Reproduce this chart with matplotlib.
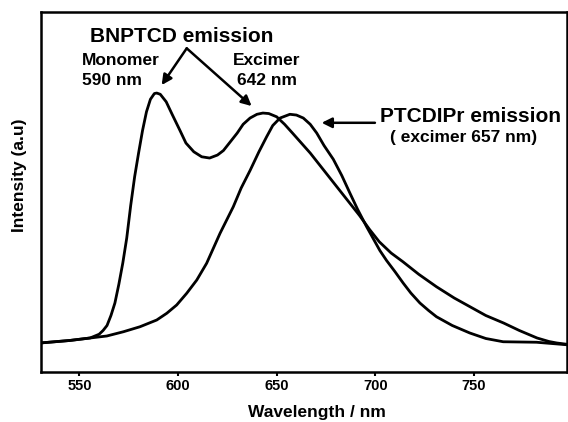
import matplotlib.pyplot as plt

plt.rcParams['font.family'] = ['Liberation Sans', 'DejaVu Sans']
plt.rcParams['font.weight'] = 'bold'

# BNPTCD emission (monomer 590 nm + excimer 642 nm)
wl_bnptcd = [530, 545, 555.4, 560, 562, 564, 566, 568, 570, 572,
             574, 576, 578, 580, 582, 584, 586, 588, 589.2, 591,
             594, 597, 601, 604, 608, 612, 616, 620, 623, 626,
             630, 633, 636.5, 640, 643, 646, 650, 654, 658, 667,
             675, 684, 692, 697, 702, 708, 714, 722, 731, 740,
             748, 756, 765, 773, 782, 788, 792, 797]
int_bnptcd = [0.0, 0.01, 0.02, 0.035, 0.05, 0.07, 0.11, 0.16, 0.235, 0.32,
              0.42, 0.55, 0.665, 0.76, 0.85, 0.925, 0.975, 0.998, 1.0, 0.995,
              0.965, 0.915, 0.85, 0.80, 0.765, 0.745, 0.74, 0.752, 0.77, 0.80,
              0.84, 0.875, 0.90, 0.915, 0.92, 0.918, 0.905, 0.875, 0.84, 0.76,
              0.68, 0.59, 0.51, 0.455, 0.405, 0.36, 0.325, 0.275, 0.225, 0.18,
              0.145, 0.11, 0.08, 0.05, 0.02, 0.006, 0.0, -0.005]

# PTCDIPr emission (excimer 657 nm)
wl_ptcdipr = [530, 545, 555.4, 563.9, 572.3, 580.7, 589.2, 594.3, 599.3, 604.4,
              609.5, 614.5, 621.3, 628, 632, 636.5, 641, 644.9, 648, 651.7,
              656.7, 660, 663.5, 667, 670.3, 674, 678.7, 683, 687.1, 691,
              695.6, 702.3, 705.7, 710, 714.1, 718, 722.6, 727, 731, 739,
              747.9, 756, 764.8, 781.7, 797]
int_ptcdipr = [0.0, 0.01, 0.02, 0.028, 0.045, 0.065, 0.092, 0.119, 0.152, 0.199,
               0.252, 0.319, 0.439, 0.545, 0.62, 0.69, 0.765, 0.825, 0.87, 0.90,
               0.915, 0.912, 0.90, 0.875, 0.84, 0.79, 0.735, 0.67, 0.60, 0.535,
               0.465, 0.37, 0.33, 0.285, 0.24, 0.20, 0.16, 0.13, 0.105, 0.07,
               0.04, 0.018, 0.005, 0.003, -0.007]

xticks = [550, 600, 650, 700, 750]

fig = plt.figure(figsize=(5.68, 4.22), dpi=100)
ax = fig.add_axes([0.0717, 0.1185, 0.926, 0.8535])

ax.plot(wl_bnptcd, int_bnptcd, color='black', lw=2.0)
ax.plot(wl_ptcdipr, int_ptcdipr, color='black', lw=2.0)

ax.set_xlim(530.4, 797)
ax.set_ylim(-0.116, 1.325)
ax.set_xticks(xticks)
ax.set_yticks([])
ax.tick_params(axis='x', direction='out', length=3, width=1.5, labelsize=10.5, pad=2)
for lab in ax.get_xticklabels():
    lab.set_fontweight('bold')
for sp in ax.spines.values():
    sp.set_linewidth(1.8)

# axis labels
fig.text(317 / 568, 1 - 417 / 422, 'Wavelength / nm', ha='center', va='baseline',
         fontsize=12.5, fontweight='bold')
fig.text(20 / 568, 1 - 175 / 422, 'Intensity (a.u)', ha='center', va='center',
         rotation=90, fontsize=12.5, fontweight='bold')

# annotations
ax.text(602.0, 1.205, 'BNPTCD emission', ha='center', va='baseline', fontsize=15, fontweight='bold')
ax.text(551.2, 1.112, 'Monomer', ha='left', va='baseline', fontsize=12.5, fontweight='bold')
ax.text(551.2, 1.032, '590 nm', ha='left', va='baseline', fontsize=12.5, fontweight='bold')
ax.text(645.1, 1.112, 'Excimer', ha='center', va='baseline', fontsize=12.5, fontweight='bold')
ax.text(645.1, 1.032, '642 nm', ha='center', va='baseline', fontsize=12.5, fontweight='bold')
ax.text(702.4, 0.885, 'PTCDIPr emission', ha='left', va='baseline', fontsize=15, fontweight='bold')
ax.text(707.4, 0.804, '( excimer 657 nm)', ha='left', va='baseline', fontsize=12.5, fontweight='bold')

arrow = dict(arrowstyle='-|>', color='black', lw=1.8, mutation_scale=15, shrinkA=0, shrinkB=0)
ax.annotate('', xy=(591.7, 1.032), xytext=(604.4, 1.179), arrowprops=arrow)
ax.annotate('', xy=(637.3, 0.948), xytext=(604.4, 1.179), arrowprops=arrow)
ax.annotate('', xy=(672.8, 0.881), xytext=(699.8, 0.881), arrowprops=arrow)

fig.savefig('out.png', dpi=100)
